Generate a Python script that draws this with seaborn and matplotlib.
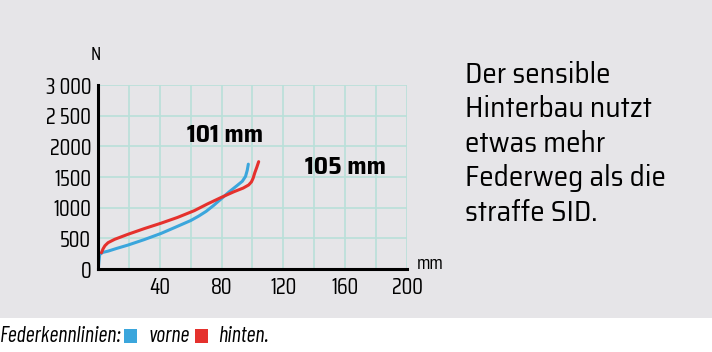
import matplotlib
matplotlib.use("Agg")
import matplotlib.pyplot as plt
from matplotlib.patches import Rectangle
from matplotlib.ticker import FixedLocator
import seaborn as sns
import pandas as pd

# Federkennlinien (Weg in mm, Kraft in N)
vorne_mm = [0.3, 0.6, 1.1, 3, 6.5, 12, 19.4, 30, 40.8, 50, 60, 65, 70, 75, 80, 85, 90, 93.4, 95.5, 96.6, 97.3]
vorne_n = [30, 120, 236, 270, 291, 335, 390, 480, 580, 680, 790, 860, 940, 1040, 1150, 1260, 1360, 1430, 1510, 1610, 1709]
hinten_mm = [2.2, 3.3, 4.5, 6.5, 10.8, 19.4, 30, 40.8, 51.5, 62.3, 70.8, 80, 88, 94, 97.5, 99.3, 100.4, 101.5, 102.8, 104]
hinten_n = [264, 330, 380, 429, 484, 566, 659, 747, 841, 951, 1060, 1170, 1260, 1320, 1370, 1420, 1480, 1570, 1660, 1750]

y_ticks = [0, 500, 1000, 1500, 2000, 2500, 3000]
y_labels = ["0", "500", "1000", "1500", "2000", "2 500", "3 000"]
x_labels = [40, 80, 120, 160, 200]
x_minor = [20, 60, 100, 140, 180]

series_names = ["vorne", "hinten"]
series_colors = ["#3ba6dc", "#e5312d"]

annotation_text = ["101 mm", "105 mm"]
side_text = "Der sensible\nHinterbau nutzt\netwas mehr\nFederweg als die\nstraffe SID."

sns.set_style("white")
plt.rcParams['font.family'] = ['Saira SemiCondensed', 'DejaVu Sans']
plt.rcParams['text.color'] = 'black'
plt.rcParams['xtick.color'] = 'black'
plt.rcParams['ytick.color'] = 'black'
tick_font = ['Saira Condensed', 'DejaVu Sans']

bg = "#e6e5e8"
fig = plt.figure(figsize=(7.12, 3.52), dpi=100)
fig.patch.set_facecolor("white")
# grey panel above the white footer
fig.patches.append(Rectangle((0, 34 / 352), 1, 1 - 34 / 352, transform=fig.transFigure,
                             facecolor=bg, edgecolor="none", zorder=-5))

ax = fig.add_axes([98 / 712, 83 / 352, 309 / 712, 184 / 352])
ax.set_facecolor(bg)

df = pd.concat([
    pd.DataFrame({"mm": vorne_mm, "N": vorne_n, "serie": "vorne"}),
    pd.DataFrame({"mm": hinten_mm, "N": hinten_n, "serie": "hinten"}),
], ignore_index=True)

for name, color in zip(series_names, series_colors):
    sub = df[df["serie"] == name]
    sns.lineplot(data=sub, x="mm", y="N", ax=ax, color=color, lw=2.2, sort=False,
                 estimator=None, legend=False, zorder=3)

ax.set_xlim(0, 200)
ax.set_ylim(0, 3000)
ax.grid(True, color="#b9e0d9", lw=1.2, zorder=1)
ax.set_axisbelow(True)

for s in ["top", "right"]:
    ax.spines[s].set_visible(False)
for s in ["left", "bottom"]:
    ax.spines[s].set_color("black")
    ax.spines[s].set_linewidth(2.2)
    ax.spines[s].set_zorder(4)

ax.set_xlabel("")
ax.set_ylabel("")
ax.set_yticks(y_ticks)
ax.set_yticklabels(y_labels, family=tick_font, fontsize=16)
ax.tick_params(axis="y", length=4, width=3, color="black", pad=1)
ax.set_xticks(x_labels)
ax.set_xticklabels([str(v) for v in x_labels], family=tick_font, fontsize=16)
ax.tick_params(axis="x", which="major", length=0, pad=6)
ax.xaxis.set_minor_locator(FixedLocator(x_minor))
ax.tick_params(axis="x", which="minor", length=4, width=3, color="black")
# keep grid lines every 20 mm
for v in x_minor:
    ax.axvline(v, color="#b9e0d9", lw=1.2, zorder=1)

fig.text(96 / 712, 1 - 55 / 352, "N", fontsize=14, family=tick_font, ha="center", va="center")
fig.text(430 / 712, 1 - 264 / 352, "mm", fontsize=14, family=tick_font, ha="center", va="center")

ax.text(82, 2180, annotation_text[0], fontsize=18, fontweight="bold", ha="center", va="center")
ax.text(160.5, 1670, annotation_text[1], fontsize=18, fontweight="bold", ha="center", va="center")

fig.text(465 / 712, 1 - 61 / 352, side_text, fontsize=21, ha="left", va="top", linespacing=1.29)

# footer legend
fy = 1 - 336 / 352
ff = ['Barlow Condensed', 'DejaVu Sans']
fig.text(0.0, fy, "Federkennlinien:", fontsize=16, style="italic", family=ff, ha="left", va="center")
fig.patches.append(Rectangle((124 / 712, fy - 7 / 352), 13 / 712, 14 / 352, transform=fig.transFigure,
                             facecolor=series_colors[0], edgecolor="none"))
fig.text(149 / 712, fy, series_names[0], fontsize=16, style="italic", family=ff, ha="left", va="center")
fig.patches.append(Rectangle((195 / 712, fy - 7 / 352), 13 / 712, 14 / 352, transform=fig.transFigure,
                             facecolor=series_colors[1], edgecolor="none"))
fig.text(218 / 712, fy, series_names[1] + ".", fontsize=16, style="italic", family=ff, ha="left", va="center")

plt.savefig("out.png", dpi=100, facecolor=fig.get_facecolor())
plt.close()
